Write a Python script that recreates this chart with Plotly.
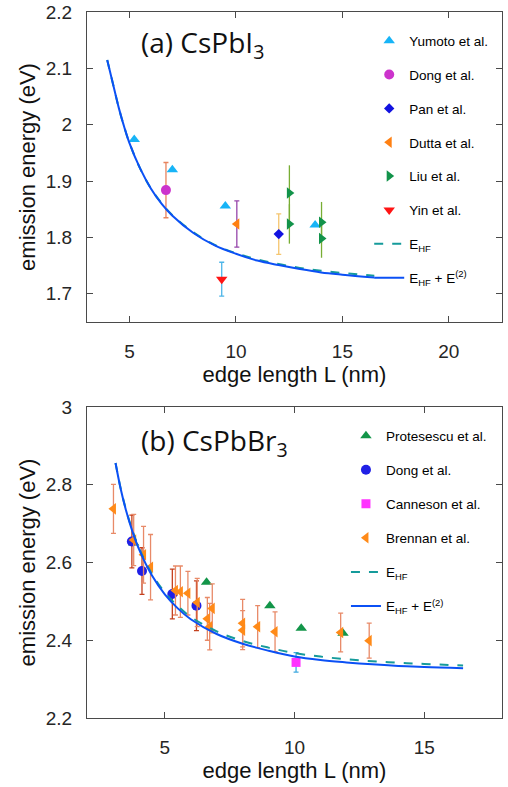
import plotly.graph_objects as go

# ---------------- (a) CsPbI3 data ----------------
yumoto_L = [5.22, 7.01, 9.50, 13.72]
yumoto_E = [1.974, 1.920, 1.856, 1.822]

dong_a_L = [6.71]
dong_a_E = [1.884]
dong_a_err = [0.049]

pan_L = [12.01]
pan_E = [1.806]
pan_err = [0.036]

dutta_L = [10.04]
dutta_E = [1.824]
dutta_err = [0.041]

liu_L = [12.51, 12.51, 14.02, 14.02]
liu_E = [1.879, 1.824, 1.827, 1.798]
liu_err = [0.049, 0.035, 0.036, 0.034]

yin_L = [9.33]
yin_E = [1.726]
yin_err = [0.030]

curve_a_L = [3.95, 4.25, 4.5, 4.75, 5.0, 5.5, 6.0, 6.5, 7.0, 8.0, 9.0, 10.0,
             11.0, 12.0, 13.0, 14.0, 15.0, 16.5]
curve_a_E2 = [2.115, 2.068, 2.029, 1.996, 1.967, 1.922, 1.887, 1.860, 1.839,
              1.808, 1.786, 1.771, 1.759, 1.751, 1.744, 1.738, 1.734, 1.729]
curve_a_HF = [2.115, 2.068, 2.029, 1.996, 1.967, 1.922, 1.887, 1.861, 1.840,
              1.809, 1.787, 1.772, 1.761, 1.753, 1.746, 1.741, 1.737, 1.732]

# ---------------- (b) CsPbBr3 data ----------------
prot_L = [3.80, 6.61, 9.05, 10.26, 11.87]
prot_E = [2.650, 2.549, 2.489, 2.431, 2.418]

dong_b_L = [3.73, 4.12, 5.29, 6.22]
dong_b_E = [2.654, 2.578, 2.519, 2.489]
dong_b_err = [0.068, 0.060, 0.064, 0.064]

cann_L = [10.06]
cann_E = [2.343]
cann_err = [0.025]

bren_L = [3.02, 3.80, 4.18, 4.45, 5.41, 5.60, 5.89, 6.25, 6.64, 6.73, 6.83,
          8.0, 8.0, 8.58, 9.25, 11.78, 12.88]
bren_E = [2.738, 2.658, 2.620, 2.588, 2.528, 2.525, 2.521, 2.497, 2.455, 2.435,
          2.482, 2.444, 2.426, 2.435, 2.422, 2.420, 2.399]
bren_err = [0.063, 0.066, 0.073, 0.084, 0.063, 0.066, 0.056, 0.062, 0.055, 0.060,
            0.063, 0.061, 0.050, 0.054, 0.051, 0.050, 0.045]

curve_b_L = [3.1, 3.3, 3.5, 3.75, 4.0, 4.5, 5.0, 5.5, 6.0, 7.0, 8.0, 9.0, 10.0,
             11.0, 12.0, 13.0, 14.0, 15.0, 16.5]
curve_b_E2 = [2.856, 2.789, 2.735, 2.680, 2.635, 2.567, 2.518, 2.482, 2.454,
              2.416, 2.391, 2.373, 2.358, 2.349, 2.343, 2.338, 2.334, 2.331, 2.328]
curve_b_HF = [2.856, 2.790, 2.737, 2.683, 2.638, 2.571, 2.523, 2.488, 2.460,
              2.423, 2.398, 2.381, 2.367, 2.358, 2.351, 2.346, 2.342, 2.339, 2.335]

x_ticks_a = [5, 10, 15, 20]
y_ticks_a = [1.7, 1.8, 1.9, 2.0, 2.1, 2.2]
y_ticklabels_a = ["1.7", "1.8", "1.9", "2", "2.1", "2.2"]
x_ticks_b = [5, 10, 15]
y_ticks_b = [2.2, 2.4, 2.6, 2.8, 3.0]
y_ticklabels_b = ["2.2", "2.4", "2.6", "2.8", "3"]

FONT = "Liberation Sans, Arial, sans-serif"
HF_COLOR = "#159b9b"
E2_COLOR = "#0b50f5"

fig = go.Figure()


def pts(x, y, name, symbol, color, size, leg, xa, ya, err=None, ecolor=None,
        ewidth=2.5):
    kw = {}
    if err is not None:
        kw["error_y"] = dict(type="data", array=err, visible=True, color=ecolor,
                             thickness=1.3, width=ewidth)
    fig.add_trace(go.Scatter(
        x=x, y=y, mode="markers", name=name, legend=leg, legendgroup=name + leg,
        marker=dict(symbol=symbol, color=color, size=size, line=dict(width=0)),
        xaxis=xa, yaxis=ya, **kw))


def curve(x, y, name, color, dash, leg, xa, ya):
    fig.add_trace(go.Scatter(
        x=x, y=y, mode="lines", name=name, legend=leg, legendgroup=name + leg,
        line=dict(color=color, width=2, dash=dash, shape="spline"),
        xaxis=xa, yaxis=ya))


# top panel
pts(yumoto_L, yumoto_E, "Yumoto et al.", "triangle-up", "#17b4f7", 10, "legend", "x", "y")
pts(dong_a_L, dong_a_E, "Dong et al.", "circle", "#cc33cc", 10, "legend", "x", "y",
    dong_a_err, "#e8845e")
pts(pan_L, pan_E, "Pan et al.", "diamond", "#1212e0", 8, "legend", "x", "y",
    pan_err, "#f5c56e")
pts(dutta_L, dutta_E, "Dutta et al.", "triangle-left", "#ff8012", 10, "legend", "x", "y",
    dutta_err, "#9646aa")
pts(liu_L, liu_E, "Liu et al.", "triangle-right", "#12934a", 10, "legend", "x", "y",
    liu_err, "#78ad34", 0)
pts(yin_L, yin_E, "Yin et al.", "triangle-down", "#ff1414", 10, "legend", "x", "y",
    yin_err, "#4db5e8")
curve(curve_a_L, curve_a_HF, "E<sub>HF</sub>", HF_COLOR, "dash", "legend", "x", "y")
curve(curve_a_L, curve_a_E2, "E<sub>HF</sub> + E<sup>(2)</sup>", E2_COLOR, "solid",
      "legend", "x", "y")

# bottom panel
pts(prot_L, prot_E, "Protesescu et al.", "triangle-up", "#129549", 10, "legend2", "x2", "y2")
pts(dong_b_L, dong_b_E, "Dong et al.", "circle", "#2020e6", 10, "legend2", "x2", "y2",
    dong_b_err, "#c4401e")
pts(cann_L, cann_E, "Canneson et al.", "square", "#ff33ff", 9, "legend2", "x2", "y2",
    cann_err, "#3fa9e0")
pts(bren_L, bren_E, "Brennan et al.", "triangle-left", "#ff8a18", 10, "legend2", "x2", "y2",
    bren_err, "#e88a68")
curve(curve_b_L, curve_b_HF, "E<sub>HF</sub>", HF_COLOR, "dash", "legend2", "x2", "y2")
curve(curve_b_L, curve_b_E2, "E<sub>HF</sub> + E<sup>(2)</sup>", E2_COLOR, "solid",
      "legend2", "x2", "y2")

axis_common = dict(
    showline=True, linecolor="#4a4a4a", linewidth=1, mirror="ticks",
    ticks="inside", ticklen=6, tickcolor="#4a4a4a", tickwidth=1,
    showgrid=False, zeroline=False,
    tickfont=dict(family=FONT, size=19, color="#262626"),
)

xtitle = dict(text="edge length L (nm)", font=dict(family=FONT, size=22, color="#111"),
              standoff=2)
ytitle = dict(text="emission energy (eV)", font=dict(family=FONT, size=22, color="#111"),
              standoff=4)

fig.update_layout(
    width=508, height=787,
    margin=dict(l=87, r=6, t=12, b=69, autoexpand=False),
    paper_bgcolor="white", plot_bgcolor="white",
    showlegend=True,
    xaxis=dict(domain=[0, 1], range=[3, 22.5], tickvals=x_ticks_a, anchor="y",
               title=xtitle, ticklabelstandoff=12, **axis_common),
    yaxis=dict(domain=[0.5609, 1], range=[1.65, 2.2], tickvals=y_ticks_a,
               ticktext=y_ticklabels_a, anchor="x", title=ytitle,
               ticklabelstandoff=10, **axis_common),
    xaxis2=dict(domain=[0, 1], range=[2, 18], tickvals=x_ticks_b, anchor="y2",
                title=xtitle, ticklabelstandoff=12, **axis_common),
    yaxis2=dict(domain=[0, 0.4405], range=[2.2, 3.0], tickvals=y_ticks_b,
                ticktext=y_ticklabels_b, anchor="x2", title=ytitle,
                ticklabelstandoff=10, **axis_common),
    legend=dict(x=0.68, y=0.981, xanchor="left", yanchor="top",
                bgcolor="rgba(0,0,0,0)", borderwidth=0, tracegroupgap=13.3,
                font=dict(family=FONT, size=13.5, color="#000")),
    legend2=dict(x=0.624, y=0.4215, xanchor="left", yanchor="top",
                 bgcolor="rgba(0,0,0,0)", borderwidth=0, tracegroupgap=13.5,
                 font=dict(family=FONT, size=13.5, color="#000")),
    annotations=[
        dict(text="(a) CsPbI<sub>3</sub>", xref="paper", yref="paper",
             x=(139 - 87) / 415, y=(718 - 21) / 706, xanchor="left", yanchor="top",
             showarrow=False, font=dict(family="Open Sans", size=28, color="#111")),
        dict(text="(b) CsPbBr<sub>3</sub>", xref="paper", yref="paper",
             x=(139 - 87) / 415, y=(718 - 419) / 706, xanchor="left", yanchor="top",
             showarrow=False, font=dict(family="Open Sans", size=28, color="#111")),
    ],
)

fig.write_html("out.html", config={"displayModeBar": False},
               post_script="document.body.style.margin='0';document.body.style.padding='0';")
